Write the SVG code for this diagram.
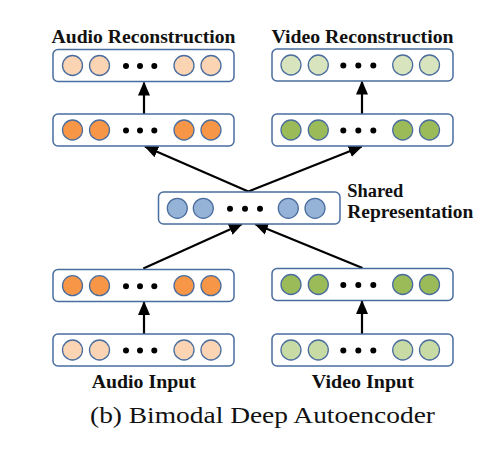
<svg xmlns="http://www.w3.org/2000/svg" width="504" height="451" viewBox="0 0 504 451">
<defs>
<style>
.box{fill:#fff;stroke:#4a6d9e;stroke-width:1.5}
.c{stroke:#4a6d9e;stroke-width:1.3}
.lo{fill:#fbd4b4}.o{fill:#f79646}.lg{fill:#d7e4bd}.lg2{fill:#c8dba5}.g{fill:#9bbb59}.b{fill:#95b3d7}
.dot{fill:#000}
.lbl{font-family:"Liberation Serif",serif;font-weight:bold;font-size:18.5px;fill:#111}
.cap{font-family:"Liberation Serif",serif;font-size:23px;fill:#111}
.ln{stroke:#000;stroke-width:2.2;fill:none}
</style>
<marker id="ah" markerUnits="userSpaceOnUse" markerWidth="14" markerHeight="14" viewBox="0 0 14 14" refX="13" refY="7" orient="auto">
<path d="M0,1 L14,7 L0,13 Z" fill="#000"/>
</marker>
</defs>
<rect width="504" height="451" fill="#fff"/>

<g id="connectors">
<line class="ln" x1="144" y1="114" x2="144" y2="82.5" marker-end="url(#ah)"/>
<line class="ln" x1="362" y1="114" x2="362" y2="81.5" marker-end="url(#ah)"/>
<line class="ln" x1="248.3" y1="191.5" x2="145" y2="146.5" marker-end="url(#ah)"/>
<line class="ln" x1="248.3" y1="191.5" x2="361.7" y2="146.5" marker-end="url(#ah)"/>
<line class="ln" x1="143.3" y1="268.5" x2="242" y2="224" marker-end="url(#ah)"/>
<line class="ln" x1="362.5" y1="268" x2="255" y2="224" marker-end="url(#ah)"/>
<line class="ln" x1="144" y1="334" x2="144" y2="302" marker-end="url(#ah)"/>
<line class="ln" x1="362" y1="334" x2="362" y2="301" marker-end="url(#ah)"/>
</g>

<g id="audio-reconstruction">
<text class="lbl" x="143.5" y="42.5" text-anchor="middle" textLength="184" lengthAdjust="spacingAndGlyphs">Audio Reconstruction</text>
<rect class="box" x="53" y="49.5" width="181" height="32" rx="5"/>
<g class="c lo"><circle cx="72.5" cy="65.5" r="10"/><circle cx="99.5" cy="65.5" r="10"/><circle cx="184" cy="65.5" r="10"/><circle cx="211" cy="65.5" r="10"/></g>
<g class="dot"><circle cx="126" cy="66" r="3"/><circle cx="140" cy="66" r="3"/><circle cx="154.3" cy="66" r="3"/></g>
</g>

<g id="video-reconstruction">
<text class="lbl" x="362.5" y="42.5" text-anchor="middle" textLength="182" lengthAdjust="spacingAndGlyphs">Video Reconstruction</text>
<rect class="box" x="272" y="49" width="181" height="32" rx="5"/>
<g class="c lg"><circle cx="291" cy="65" r="10"/><circle cx="318.3" cy="65" r="10"/><circle cx="402.7" cy="65" r="10"/><circle cx="429.5" cy="65" r="10"/></g>
<g class="dot"><circle cx="343.3" cy="65.5" r="3"/><circle cx="358.3" cy="65.5" r="3"/><circle cx="373.3" cy="65.5" r="3"/></g>
</g>

<g id="audio-hidden-top">
<rect class="box" x="53" y="114" width="181" height="32" rx="5"/>
<g class="c o"><circle cx="72.5" cy="130" r="10"/><circle cx="99.5" cy="130" r="10"/><circle cx="184" cy="130" r="10"/><circle cx="211" cy="130" r="10"/></g>
<g class="dot"><circle cx="126" cy="130.5" r="3"/><circle cx="140" cy="130.5" r="3"/><circle cx="154.3" cy="130.5" r="3"/></g>
</g>

<g id="video-hidden-top">
<rect class="box" x="272" y="114" width="181" height="32" rx="5"/>
<g class="c g"><circle cx="291" cy="130" r="10"/><circle cx="318.3" cy="130" r="10"/><circle cx="402.7" cy="130" r="10"/><circle cx="429.5" cy="130" r="10"/></g>
<g class="dot"><circle cx="343.3" cy="130.5" r="3"/><circle cx="358.3" cy="130.5" r="3"/><circle cx="373.3" cy="130.5" r="3"/></g>
</g>

<g id="shared-representation">
<rect class="box" x="158.5" y="192" width="181.5" height="32" rx="5"/>
<g class="c b"><circle cx="177.3" cy="208.3" r="10"/><circle cx="203.3" cy="208.3" r="10"/><circle cx="288.3" cy="208.3" r="10"/><circle cx="315" cy="208.3" r="10"/></g>
<g class="dot"><circle cx="230" cy="208.8" r="3"/><circle cx="245" cy="208.8" r="3"/><circle cx="260" cy="208.8" r="3"/></g>
<text class="lbl" x="347.3" y="196.5" textLength="56" lengthAdjust="spacingAndGlyphs">Shared</text>
<text class="lbl" x="347.3" y="218.3" textLength="126" lengthAdjust="spacingAndGlyphs">Representation</text>
</g>

<g id="audio-hidden-bottom">
<rect class="box" x="53" y="269.5" width="181" height="32" rx="5"/>
<g class="c o"><circle cx="72.5" cy="285.7" r="10"/><circle cx="99.5" cy="285.7" r="10"/><circle cx="184" cy="285.7" r="10"/><circle cx="211" cy="285.7" r="10"/></g>
<g class="dot"><circle cx="126" cy="286.2" r="3"/><circle cx="140" cy="286.2" r="3"/><circle cx="154.3" cy="286.2" r="3"/></g>
</g>

<g id="video-hidden-bottom">
<rect class="box" x="272" y="268.5" width="181" height="32" rx="5"/>
<g class="c g"><circle cx="291" cy="284.5" r="10"/><circle cx="318.3" cy="284.5" r="10"/><circle cx="402.7" cy="284.5" r="10"/><circle cx="429.5" cy="284.5" r="10"/></g>
<g class="dot"><circle cx="343.3" cy="285" r="3"/><circle cx="358.3" cy="285" r="3"/><circle cx="373.3" cy="285" r="3"/></g>
</g>

<g id="audio-input">
<rect class="box" x="53" y="334" width="181" height="32" rx="5"/>
<g class="c lo"><circle cx="72.5" cy="350" r="10"/><circle cx="99.5" cy="350" r="10"/><circle cx="184" cy="350" r="10"/><circle cx="211" cy="350" r="10"/></g>
<g class="dot"><circle cx="126" cy="350.5" r="3"/><circle cx="140" cy="350.5" r="3"/><circle cx="154.3" cy="350.5" r="3"/></g>
<text class="lbl" x="143.8" y="388.3" text-anchor="middle" textLength="104" lengthAdjust="spacingAndGlyphs">Audio Input</text>
</g>

<g id="video-input">
<rect class="box" x="272" y="334" width="181" height="32" rx="5"/>
<g class="c lg2"><circle cx="291" cy="350" r="10"/><circle cx="318.3" cy="350" r="10"/><circle cx="402.7" cy="350" r="10"/><circle cx="429.5" cy="350" r="10"/></g>
<g class="dot"><circle cx="343.3" cy="350.5" r="3"/><circle cx="358.3" cy="350.5" r="3"/><circle cx="373.3" cy="350.5" r="3"/></g>
<text class="lbl" x="362.8" y="388.3" text-anchor="middle" textLength="102" lengthAdjust="spacingAndGlyphs">Video Input</text>
</g>

<text class="cap" x="262.5" y="422.5" text-anchor="middle" textLength="345" lengthAdjust="spacingAndGlyphs">(b) Bimodal Deep Autoencoder</text>
</svg>
